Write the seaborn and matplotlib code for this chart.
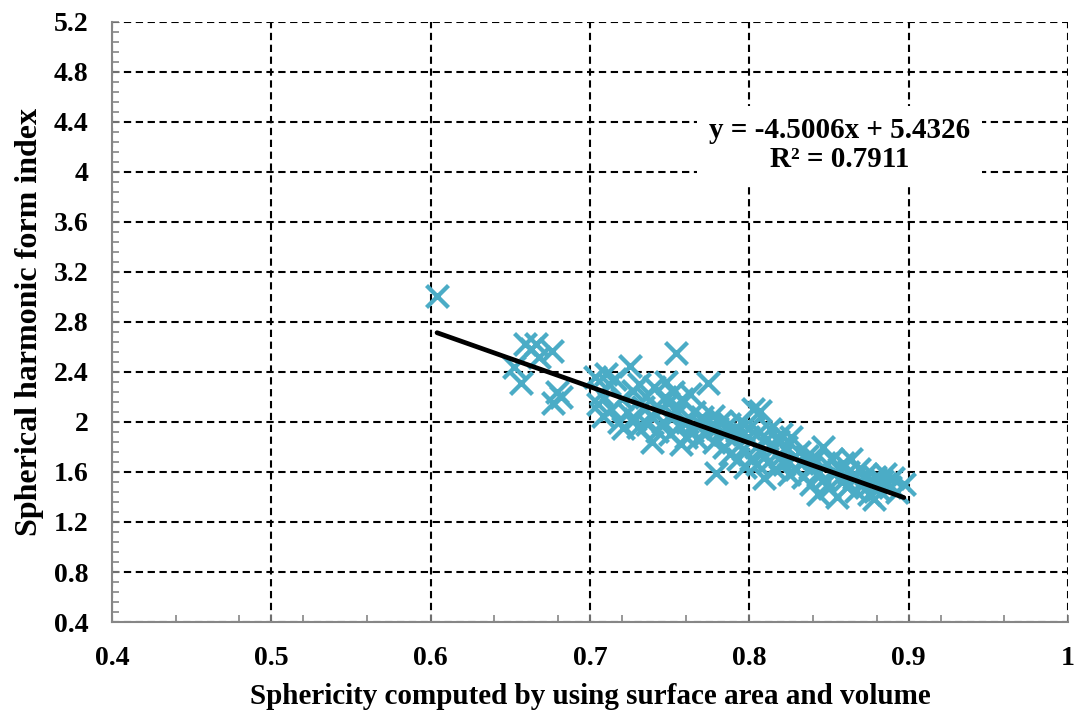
import numpy as np
import pandas as pd
import seaborn as sns
import matplotlib.pyplot as plt
from matplotlib.ticker import MultipleLocator, FuncFormatter

# sphericity (surface area / volume) vs spherical harmonic form index
sphericity = [
    0.604, 0.652, 0.657, 0.659, 0.663, 0.666, 0.668, 0.676, 0.677, 0.679, 0.682,
    0.703, 0.705, 0.707, 0.708, 0.710, 0.712, 0.713, 0.716, 0.718, 0.720, 0.721,
    0.723, 0.725, 0.727, 0.728, 0.730, 0.731, 0.733, 0.735, 0.736, 0.738, 0.739, 0.740,
    0.742, 0.744, 0.746, 0.747, 0.748, 0.749, 0.750, 0.752, 0.753, 0.754, 0.755,
    0.756, 0.757, 0.758, 0.760, 0.761, 0.763, 0.764, 0.765, 0.767, 0.769, 0.770,
    0.772, 0.774, 0.775, 0.777, 0.778, 0.779, 0.780,
    0.782, 0.784, 0.785, 0.787, 0.788, 0.790, 0.792, 0.793, 0.795, 0.796, 0.797,
    0.799, 0.800, 0.801, 0.802, 0.804, 0.805, 0.806, 0.807, 0.808, 0.809, 0.811,
    0.812, 0.813, 0.815, 0.816, 0.818, 0.819, 0.820,
    0.822, 0.823, 0.825, 0.826, 0.828, 0.829, 0.831, 0.833, 0.834, 0.836, 0.838,
    0.839, 0.841, 0.843, 0.844, 0.846, 0.847, 0.849, 0.850, 0.852, 0.853, 0.855,
    0.856, 0.858, 0.859,
    0.861, 0.862, 0.864, 0.866, 0.867, 0.869, 0.871, 0.873, 0.875, 0.876, 0.878,
    0.879, 0.881, 0.883, 0.885, 0.888, 0.890, 0.893, 0.897,
]
form_index = [
    3.01, 2.44, 2.31, 2.62, 2.58, 2.62, 2.52, 2.57, 2.15, 2.24, 2.20,
    2.36, 2.14, 2.22, 2.05, 2.38, 2.30, 2.10, 2.34, 2.00, 2.18, 1.95,
    2.08, 2.45, 2.25, 2.02, 1.96, 2.30, 2.12, 2.20, 1.98, 2.05, 1.84, 2.28,
    1.93, 2.10, 2.00, 2.20, 2.32, 2.15, 1.90, 2.24, 2.05, 2.55, 2.12,
    1.97, 1.82, 2.18, 1.88, 2.00, 2.22, 1.93, 2.08, 1.86, 1.98, 2.04,
    1.90, 2.31, 1.96, 2.05, 1.84, 1.59, 1.95,
    2.01, 1.80, 1.90, 1.98, 1.74, 1.86, 1.93, 1.70, 2.00, 1.78, 1.64,
    1.88, 1.95, 1.70, 2.10, 1.80, 1.66, 1.92, 2.09, 1.75, 1.55, 1.86,
    1.68, 1.94, 1.78, 1.62, 1.85, 1.72, 1.90,
    1.66, 1.80, 1.58, 1.88, 1.72, 1.62, 1.76, 1.67, 1.56, 1.73, 1.63,
    1.50, 1.70, 1.42, 1.60, 1.80, 1.54, 1.66, 1.47, 1.70, 1.58, 1.40,
    1.62, 1.52, 1.67,
    1.48, 1.60, 1.70, 1.55, 1.45, 1.62, 1.52, 1.58, 1.42, 1.50, 1.38,
    1.56, 1.46, 1.53, 1.58, 1.48, 1.55, 1.44, 1.50,
]
slope = -4.5006
intercept = 5.4326
r2 = 0.7911

df = pd.DataFrame({'x': sphericity, 'y': form_index})
fit = pd.DataFrame({'x': [min(sphericity), max(sphericity)]})
fit['y'] = slope * fit['x'] + intercept

sns.set_style("white")
plt.rcParams['font.family'] = ['Liberation Serif', 'DejaVu Serif']
plt.rcParams['font.weight'] = 'bold'
plt.rcParams['text.color'] = 'black'
plt.rcParams['axes.labelcolor'] = 'black'
plt.rcParams['xtick.color'] = 'black'
plt.rcParams['ytick.color'] = 'black'

fig = plt.figure(figsize=(10.78, 7.18), dpi=100)
ax = fig.add_axes([0.1039, 0.1337, 0.8868, 0.8357])

sns.scatterplot(data=df, x='x', y='y', marker='x', s=250, linewidth=3.1,
                color='#4BACC6', ax=ax, zorder=3)
sns.lineplot(data=fit, x='x', y='y', color='black', linewidth=3.4, ax=ax, zorder=4)

ax.set_xlim(0.4, 1.0)
ax.set_ylim(0.4, 5.2)
ax.xaxis.set_major_locator(MultipleLocator(0.1))
ax.xaxis.set_minor_locator(MultipleLocator(0.04))
ax.yaxis.set_major_locator(MultipleLocator(0.4))
ax.yaxis.set_minor_locator(MultipleLocator(0.08))
fmt = FuncFormatter(lambda v, p: '%g' % round(v, 2))
ax.xaxis.set_major_formatter(fmt)
ax.yaxis.set_major_formatter(fmt)

ax.grid(True, which='major', color='black', linestyle=(0, (3.5, 2.2)), linewidth=1.5)
ax.set_axisbelow(True)
for s in ['top', 'right']:
    ax.spines[s].set_visible(False)
for s in ['left', 'bottom']:
    ax.spines[s].set_color('#868686')
    ax.spines[s].set_linewidth(1.5)
ax.tick_params(which='both', direction='in', color='#868686', width=1.2,
               left=True, bottom=True, top=False, right=False)
ax.tick_params(which='both', length=5)
ax.tick_params(axis='both', which='major', pad=17, labelsize=20, labelcolor='black')
for lab in ax.get_xticklabels() + ax.get_yticklabels():
    lab.set_fontweight('bold')

ax.set_xlabel('Sphericity computed by using surface area and volume',
              fontsize=21, fontweight='bold', labelpad=9, color='black')
ax.set_ylabel('Spherical harmonic form index', fontsize=23, fontweight='bold',
              labelpad=7, color='black')

ax.text(0.8565, 4.216, 'y = %.4fx + %.4f\nR² = %.4f' % (slope, intercept, r2),
        ha='center', va='center', fontsize=21, fontweight='bold', linespacing=1.05,
        color='black',
        bbox=dict(boxstyle='square,pad=0.4', facecolor='white', edgecolor='none'),
        zorder=5)

plt.savefig('out.png', dpi=100)
